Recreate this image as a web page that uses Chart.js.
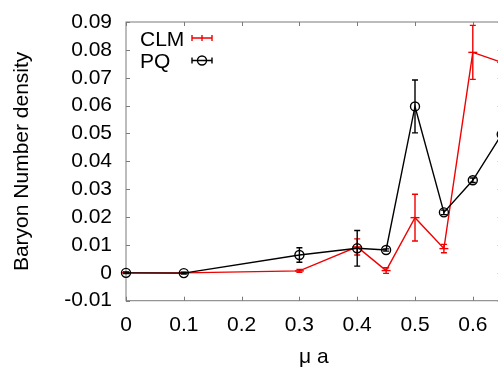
<!DOCTYPE html>
<html>
<head>
<meta charset="utf-8">
<script src="https://cdn.jsdelivr.net/npm/chart.js@4.4.0/dist/chart.umd.min.js"></script>
<style>
html, body { margin: 0; padding: 0; overflow: hidden; background: #fff; }
#wrap { width: 520px; height: 368px; }
</style>
</head>
<body>
<div id="wrap"><canvas id="chart" width="520" height="368"></canvas></div>
<script>
// chemical potential values (mu a)
const muA = [0, 0.1, 0.3, 0.4, 0.45, 0.5, 0.55, 0.6, 0.65];

// CLM series
const clmDensity = [0, 0, 0.0007, 0.0093, 0.0008, 0.0198, 0.0087, 0.0791, 0.0755];
const clmError = [0.0001, 0.0001, 0.0005, 0.0029, 0.001, 0.0084, 0.0015, 0.0097, 0.001];

// PQ series
const pqDensity = [0, -0.0001, 0.0064, 0.0088, 0.0082, 0.0597, 0.0217, 0.0332, 0.0497];
const pqError = [0.0003, 0.0003, 0.0026, 0.0064, 0.0004, 0.0095, 0.0008, 0.0008, 0.001];

const xTicks = [0, 0.1, 0.2, 0.3, 0.4, 0.5, 0.6];
const yTicks = [-0.01, 0, 0.01, 0.02, 0.03, 0.04, 0.05, 0.06, 0.07, 0.08, 0.09];

const FONT = '"Liberation Sans", Arial, Helvetica, sans-serif';
Chart.defaults.font.family = FONT;
Chart.defaults.font.size = 21;
Chart.defaults.color = '#000';

function toPoints(ys) {
    return muA.map((x, i) => ({ x: x, y: ys[i] }));
}

// frame with inward tick marks, like gnuplot
const frameTicks = {
    id: 'frameTicks',
    beforeDatasetsDraw(chart) {
        const { ctx, chartArea: a, scales } = chart;
        ctx.save();
        ctx.strokeStyle = '#7a7a7a';
        ctx.lineWidth = 1;
        ctx.strokeRect(a.left, a.top, a.right - a.left, a.bottom - a.top);
        ctx.beginPath();
        xTicks.forEach(v => {
            const px = Math.round(scales.x.getPixelForValue(v)) + 0.5;
            ctx.moveTo(px, a.bottom); ctx.lineTo(px, a.bottom - 4);
            ctx.moveTo(px, a.top); ctx.lineTo(px, a.top + 4);
        });
        yTicks.forEach(v => {
            const py = Math.round(scales.y.getPixelForValue(v)) + 0.5;
            ctx.moveTo(a.left, py); ctx.lineTo(a.left + 4, py);
            ctx.moveTo(a.right, py); ctx.lineTo(a.right - 4, py);
        });
        ctx.stroke();
        ctx.restore();
    }
};

// vertical error bars with small caps
const errorBars = {
    id: 'errorBars',
    afterDatasetDraw(chart, args) {
        const ds = chart.data.datasets[args.index];
        const errs = ds.errorValues;
        if (!errs) return;
        const { ctx, scales } = chart;
        ctx.save();
        ctx.strokeStyle = ds.borderColor;
        ctx.lineWidth = 1.4;
        ctx.beginPath();
        ds.data.forEach((p, i) => {
            const px = scales.x.getPixelForValue(p.x);
            const y1 = scales.y.getPixelForValue(p.y + errs[i]);
            const y2 = scales.y.getPixelForValue(p.y - errs[i]);
            ctx.moveTo(px, y1); ctx.lineTo(px, y2);
            ctx.moveTo(px - 3, y1); ctx.lineTo(px + 3, y1);
            ctx.moveTo(px - 3, y2); ctx.lineTo(px + 3, y2);
        });
        ctx.stroke();
        ctx.restore();
    }
};

// key in the top left corner: text then sample
const keyBox = {
    id: 'keyBox',
    afterDraw(chart) {
        const ctx = chart.ctx;
        const rows = [38, 60.5];
        ctx.save();
        chart.data.datasets.forEach((ds, i) => {
            const cy = rows[i];
            ctx.fillStyle = '#000';
            ctx.font = '21px ' + FONT;
            ctx.textAlign = 'left';
            ctx.textBaseline = 'alphabetic';
            ctx.fillText(ds.label, 140, cy + 7.5);
            ctx.strokeStyle = ds.borderColor;
            ctx.lineWidth = 1.4;
            ctx.beginPath();
            ctx.moveTo(192, cy); ctx.lineTo(212, cy);
            ctx.moveTo(192, cy - 3); ctx.lineTo(192, cy + 3);
            ctx.moveTo(212, cy - 3); ctx.lineTo(212, cy + 3);
            if (ds.pointStyle === 'line') {
                ctx.moveTo(202, cy - 3); ctx.lineTo(202, cy + 3);
            }
            ctx.stroke();
            if (ds.pointStyle === 'circle') {
                ctx.beginPath();
                ctx.arc(202, cy, 4.5, 0, Math.PI * 2);
                ctx.stroke();
            }
        });
        ctx.restore();
    }
};

const ctx = document.getElementById('chart').getContext('2d');
new Chart(ctx, {
    type: 'line',
    data: {
        datasets: [
            {
                label: 'CLM',
                data: toPoints(clmDensity),
                errorValues: clmError,
                borderColor: '#f00000',
                backgroundColor: 'rgba(0,0,0,0)',
                borderWidth: 1.4,
                pointStyle: 'line',
                pointRadius: 4.5,
                pointBorderWidth: 1.4,
                tension: 0,
                clip: false,
                order: 2
            },
            {
                label: 'PQ',
                data: toPoints(pqDensity),
                errorValues: pqError,
                borderColor: '#000000',
                backgroundColor: 'rgba(0,0,0,0)',
                borderWidth: 1.4,
                pointStyle: 'circle',
                pointRadius: 4.5,
                pointBorderWidth: 1.4,
                tension: 0,
                clip: false,
                order: 1
            }
        ]
    },
    options: {
        responsive: false,
        animation: false,
        events: [],
        layout: { padding: { top: 22, right: 18.3, left: 0, bottom: 0 } },
        plugins: {
            legend: { display: false },
            tooltip: { enabled: false }
        },
        scales: {
            x: {
                type: 'linear',
                min: 0,
                max: 0.65,
                grid: { display: false, drawTicks: false },
                border: { display: false },
                afterBuildTicks: s => { s.ticks = xTicks.map(v => ({ value: v })); },
                afterFit: s => { s.height = 67.3; s.paddingLeft = 0; s.paddingRight = 0; },
                ticks: {
                    padding: 12,
                    maxRotation: 0,
                    autoSkip: false,
                    callback: v => v === 0 ? '0' : v.toFixed(1)
                },
                title: {
                    display: true,
                    text: 'μ a',
                    font: { size: 21, lineHeight: 1 },
                    padding: { top: 0, bottom: 0 }
                }
            },
            y: {
                type: 'linear',
                min: -0.01,
                max: 0.09,
                grid: { display: false, drawTicks: false },
                border: { display: false },
                afterBuildTicks: s => { s.ticks = yTicks.map(v => ({ value: v })); },
                afterFit: s => { s.width = 126; s.paddingTop = 0; s.paddingBottom = 0; },
                ticks: {
                    padding: 14,
                    autoSkip: false,
                    callback: v => Math.abs(v) < 1e-9 ? '0' : v.toFixed(2)
                },
                title: {
                    display: true,
                    text: 'Baryon Number density',
                    font: { size: 21 },
                    padding: { top: 10, bottom: 0 }
                }
            }
        }
    },
    plugins: [frameTicks, errorBars, keyBox]
});
</script>
</body>
</html>
